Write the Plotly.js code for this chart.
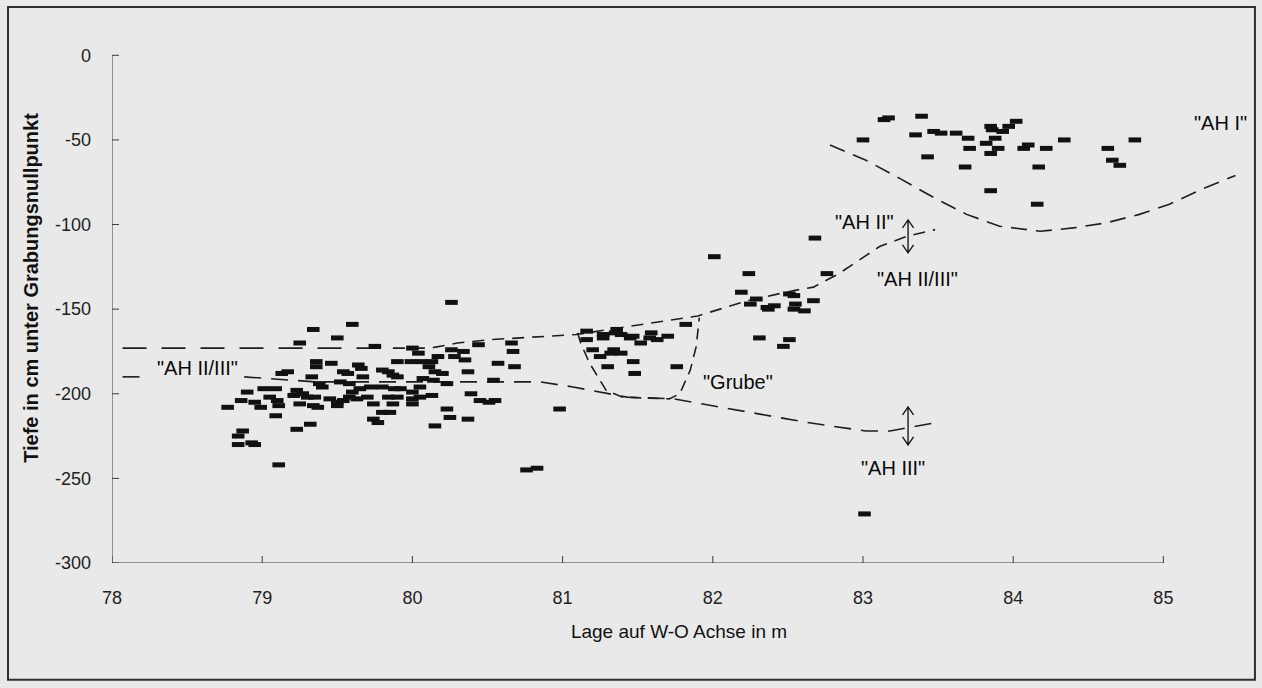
<!DOCTYPE html>
<html>
<head>
<meta charset="utf-8">
<script src="https://cdn.plot.ly/plotly-3.0.1.min.js"></script>
<style>
html,body{margin:0;padding:0;background:#e9e9e9;}
#chart{width:1262px;height:688px;}
</style>
</head>
<body>
<div id="chart"></div>
<script>
// ---- axis ticks ----
const xTickVals = [78, 79, 80, 81, 82, 83, 84, 85];
const xTickText = ["78", "79", "80", "81", "82", "83", "84", "85"];
const yTickVals = [0, -50, -100, -150, -200, -250, -300];
const yTickText = ["0", "-50", "-100", "-150", "-200", "-250", "-300"];

// ---- finds (position on W-O axis in m, depth in cm) ----
const westX = [78.77,78.84,78.84,78.87,78.86,78.90,78.93,78.95,78.95,78.99,
               79.01,79.05,79.09,79.10,79.11,79.09,79.11,79.13,79.17,79.21,
               79.23,79.23,79.25,79.25,79.27,79.30,79.32,79.33,79.34,79.34,
               79.35,79.36,79.36,79.37,79.38,79.40,79.45,79.46,79.50,79.50,
               79.50,79.52,79.54,79.54,79.57,79.58,79.58,79.60,79.60,79.63,
               79.64,79.66,79.65,79.67,79.70,79.72,79.74,79.75,79.74,79.77,
               79.80,79.80,79.80,79.84,79.84,79.87,79.87,79.88,79.90,79.90,
               79.90,79.92,79.85];
const westY = [-208,-225,-230,-222,-204,-199,-229,-230,-205,-208,
               -197,-202,-197,-204,-207,-213,-242,-188,-187,-201,
               -198,-221,-170,-206,-200,-202,-218,-190,-162,-207,
               -202,-181,-184,-208,-194,-196,-203,-182,-205,-167,
               -207,-193,-187,-204,-188,-194,-202,-159,-199,-203,
               -183,-185,-197,-190,-202,-196,-206,-172,-215,-217,
               -186,-196,-211,-187,-202,-206,-189,-197,-181,-190,
               -202,-197,-211];

const centerX = [79.99,80.06,80.13,80.00,80.04,80.00,80.05,80.00,80.05,80.13,
                 80.00,80.07,80.14,80.11,80.15,80.20,80.17,80.23,80.23,80.25,
                 80.15,80.26,80.26,80.28,80.34,80.35,80.37,80.39,80.37,80.44,
                 80.45,80.51,80.55,80.54,80.57,80.66,80.67,80.68,80.76,80.83,
                 80.98];
const centerY = [-181,-181,-181,-173,-176,-199,-196,-203,-202,-201,
                 -206,-191,-192,-184,-187,-188,-178,-194,-209,-214,
                 -219,-146,-174,-178,-175,-180,-187,-200,-215,-171,
                 -204,-205,-204,-192,-182,-170,-175,-184,-245,-244,
                 -209];

const grubeX = [81.16,81.16,81.27,81.27,81.36,81.35,81.39,81.45,81.47,81.52,
                81.59,81.58,81.63,81.70,81.82,81.20,81.25,81.32,81.34,81.39,
                81.30,81.47,81.48,81.76];
const grubeY = [-163,-168,-165,-167,-162,-164,-165,-167,-166,-170,
                -164,-167,-168,-166,-159,-174,-178,-176,-174,-176,
                -184,-181,-188,-184];

const eastX = [82.01,82.24,82.19,82.29,82.25,82.36,82.41,82.37,82.51,82.54,
               82.55,82.54,82.61,82.67,82.68,82.76,82.31,82.51,82.47,83.01];
const eastY = [-119,-129,-140,-144,-147,-149,-148,-150,-141,-142,
               -147,-150,-151,-145,-108,-129,-167,-168,-172,-271];

const topX = [83.00,83.14,83.17,83.39,83.35,83.47,83.52,83.62,83.70,83.71,
              83.43,83.68,83.85,83.86,83.93,83.97,84.02,83.88,83.82,83.90,
              83.85,84.07,84.10,84.22,84.34,84.17,83.85,84.16,84.63,84.66,
              84.71,84.81];
const topY = [-50,-38,-37,-36,-47,-45,-46,-46,-49,-55,
              -60,-66,-42,-44,-45,-42,-39,-49,-52,-55,
              -58,-55,-53,-55,-50,-66,-80,-88,-55,-62,
              -65,-50];

// ---- horizon boundaries (dashed) ----
const upperWestX = [78.07, 79.87];
const upperWestY = [-173, -173];
const upperEastX = [79.87, 80.12, 80.30, 80.52, 81.09, 81.90, 82.23, 82.54, 82.67, 82.84, 83.11, 83.29, 83.48];
const upperEastY = [-173, -173, -170, -168, -165, -154, -145, -139, -137, -129, -113, -107, -103];
const lowerX = [78.07, 78.24, null, 78.88, 79.36, 80.00, 80.58, 80.85, 81.07, 81.43, 81.74, 82.18, 82.63, 83.02, 83.18, 83.49];
const lowerY = [-190, -190, null, -190, -193, -193, -193, -193, -196, -202, -203, -210, -217, -222, -222, -217];
const grubeLineX = [81.10, 81.12, 81.18, 81.29, 81.40, 81.71, 81.78, 81.85, 81.89, 81.91];
const grubeLineY = [-164, -170, -182, -198, -202, -203, -200, -186, -172, -155];
const ah1X = [82.78, 83.02, 83.25, 83.47, 83.69, 83.91, 84.18, 84.40, 84.62, 84.84, 85.04, 85.26, 85.48];
const ah1Y = [-53, -62, -73, -84, -94, -101, -104, -102, -99, -94, -88, -79, -71];

// ---- labels ----
const labelText = ['"AH II/III"', '"AH I"', '"AH II"', '"AH II/III"', '"Grube"', '"AH III"'];
const labelX = [78.57, 85.38, 83.01, 83.36, 82.17, 83.20];
const labelY = [-185, -40, -98.5, -132, -193, -244];

// ---- double arrows (range markers) ----
const arrowX = [83.30, 83.30];
const arrowY = [-107, -219];
const arrowHalf = [16.5, 19];

const FONT = 'Liberation Sans, Arial, Helvetica, sans-serif';
const INK = '#111111';

const markerStyle = {symbol: 'line-ew', size: 9, color: INK, line: {width: 5, color: INK}};
function finds(x, y) {
  return {x: x, y: y, type: 'scatter', mode: 'markers', marker: markerStyle, hoverinfo: 'x+y', showlegend: false, cliponaxis: false};
}
function dashed(x, y, dash) {
  return {x: x, y: y, type: 'scatter', mode: 'lines', line: {color: '#1e1e1e', width: 1.6, dash: dash}, hoverinfo: 'skip', showlegend: false, connectgaps: false};
}

const data = [
  dashed(upperWestX, upperWestY, '24px,15px'),
  dashed(upperEastX, upperEastY, '12px,8px'),
  dashed(lowerX, lowerY, '17px,10px'),
  dashed(grubeLineX, grubeLineY, '11px,7px'),
  dashed(ah1X, ah1Y, '16px,9px'),
  finds(westX, westY),
  finds(centerX, centerY),
  finds(grubeX, grubeY),
  finds(eastX, eastY),
  finds(topX, topY)
];

const shapes = [];
// axis lines
shapes.push({type: 'line', xref: 'x', yref: 'y', x0: xTickVals[0], x1: xTickVals[xTickVals.length - 1],
  y0: yTickVals[yTickVals.length - 1], y1: yTickVals[yTickVals.length - 1], line: {color: '#3a3a3a', width: 1}});
shapes.push({type: 'line', xref: 'x', yref: 'y', x0: xTickVals[0], x1: xTickVals[0],
  y0: yTickVals[0], y1: yTickVals[yTickVals.length - 1], line: {color: '#3a3a3a', width: 1}});
// crossing tick marks
xTickVals.forEach(v => shapes.push({type: 'line', xref: 'x', yref: 'y', ysizemode: 'pixel',
  yanchor: yTickVals[yTickVals.length - 1], y0: -7, y1: 7, x0: v, x1: v, line: {color: '#3a3a3a', width: 1}}));
yTickVals.forEach(v => shapes.push({type: 'line', xref: 'x', yref: 'y', xsizemode: 'pixel',
  xanchor: xTickVals[0], x0: -7, x1: 7, y0: v, y1: v, line: {color: '#3a3a3a', width: 1}}));
// double-headed arrows
arrowX.forEach((ax, i) => {
  const h = arrowHalf[i];
  shapes.push({type: 'path', xref: 'x', yref: 'y', xsizemode: 'pixel', ysizemode: 'pixel',
    xanchor: ax, yanchor: arrowY[i],
    path: `M0,${-h} L0,${h} M-5.5,${-h + 8} L0,${-h} L5.5,${-h + 8} M-5.5,${h - 8} L0,${h} L5.5,${h - 8}`,
    line: {color: '#1a1a1a', width: 1.4}});
});
// outer frame
shapes.push({type: 'rect', xref: 'paper', yref: 'paper', x0: -0.0917, x1: 1.0079, y0: -0.2123, y1: 1.0109,
  line: {color: '#303030', width: 2}, layer: 'below'});

const annotations = labelText.map((t, i) => ({
  x: labelX[i], y: labelY[i], xref: 'x', yref: 'y', text: t, showarrow: false,
  font: {family: FONT, size: 20, color: '#0a0a0a'}
}));

const layout = {
  width: 1262, height: 688,
  margin: {l: 112, r: 16, t: 13, b: 125},
  paper_bgcolor: '#e9e9e9', plot_bgcolor: 'rgba(0,0,0,0)',
  font: {family: FONT, color: '#222'},
  showlegend: false,
  xaxis: {
    range: [78, 85.55], tickmode: 'array', tickvals: xTickVals, ticktext: xTickText,
    ticks: '', showline: false, showgrid: false, zeroline: false,
    tickfont: {family: FONT, size: 18, color: '#222'}, ticklabelstandoff: 22,
    title: {text: 'Lage auf W-O Achse in m', font: {family: FONT, size: 19, color: '#111'}, standoff: 17}
  },
  yaxis: {
    range: [-300, 25], tickmode: 'array', tickvals: yTickVals, ticktext: yTickText,
    ticks: '', showline: false, showgrid: false, zeroline: false,
    tickfont: {family: FONT, size: 18, color: '#222'}, ticklabelstandoff: 20,
    title: {text: '<b>Tiefe in cm unter Grabungsnullpunkt</b>', font: {family: FONT, size: 20, color: '#111'}, standoff: 10}
  },
  shapes: shapes,
  annotations: annotations
};

Plotly.newPlot('chart', data, layout, {displayModeBar: false, staticPlot: true});
</script>
</body>
</html>
